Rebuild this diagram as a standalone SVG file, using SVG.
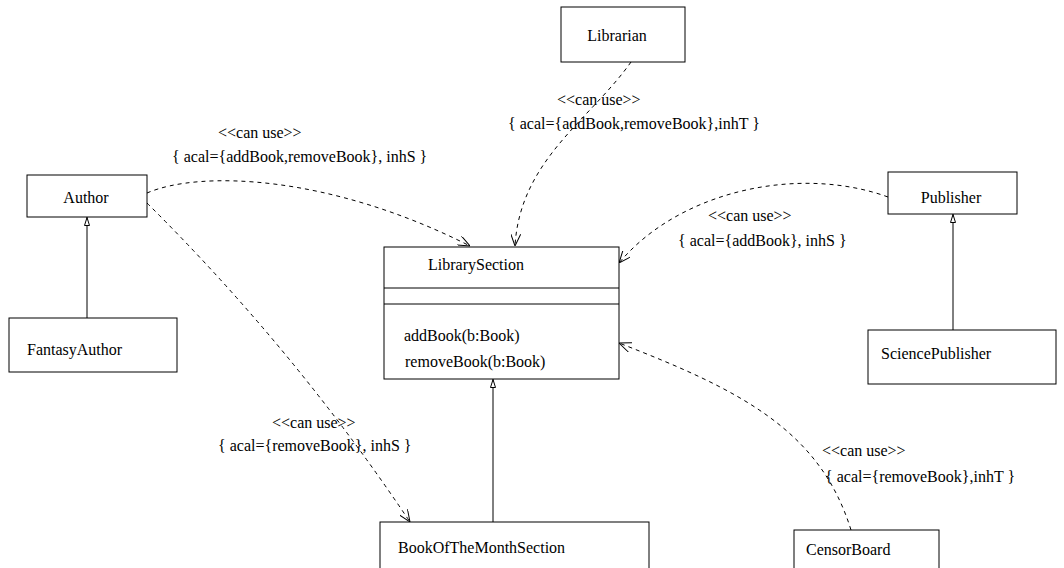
<svg xmlns="http://www.w3.org/2000/svg" width="1064" height="568" viewBox="0 0 1064 568">
  <style>
    .box { fill: #fff; stroke: #000; stroke-width: 1; }
    .sep { stroke: #000; stroke-width: 1; }
    text { font-family: "Liberation Serif", "Times New Roman", serif; font-size: 16px; fill: #000; }
    .dep { fill: none; stroke: #000; stroke-width: 1; stroke-dasharray: 4 4; marker-end: url(#open); }
    .gen { fill: none; stroke: #000; stroke-width: 1; marker-end: url(#tri); }
  </style>
  <defs>
    <!-- open arrowhead for dependencies -->
    <marker id="open" viewBox="0 0 12 10" refX="12" refY="5" markerWidth="12" markerHeight="10" orient="auto" markerUnits="userSpaceOnUse">
      <path d="M0,0 L12,5 L0,10" fill="none" stroke="#000" stroke-width="1"/>
    </marker>
    <!-- hollow triangle for generalization -->
    <marker id="tri" viewBox="0 0 9 6" refX="9" refY="3" markerWidth="9" markerHeight="6" orient="auto" markerUnits="userSpaceOnUse">
      <path d="M0.5,0.5 L8.5,3 L0.5,5.5 Z" fill="#fff" stroke="#000" stroke-width="1"/>
    </marker>
  </defs>

  <!-- connectors -->
  <g id="connectors">
    <path class="dep" d="M147,193 C200,170 330,175 470,246"/>
    <path class="dep" d="M147,203 Q295,350 410,522"/>
    <path class="dep" d="M631,62 C590,120 520,160 515,246"/>
    <path class="dep" d="M888,197 C800,165 680,190 619,263"/>
    <path class="dep" d="M851,530 C820,430 740,390 619,343"/>
    <path class="gen" d="M87,318 L87,217"/>
    <path class="gen" d="M953,330 L953,214"/>
    <path class="gen" d="M493,522 L493,379"/>
  </g>

  <!-- connector labels -->
  <g id="labels">
    <text x="218" y="138">&lt;&lt;can use&gt;&gt;</text>
    <text x="172" y="162">{ acal={addBook,removeBook}, inhS }</text>
    <text x="557" y="105">&lt;&lt;can use&gt;&gt;</text>
    <text x="508" y="129">{ acal={addBook,removeBook},inhT }</text>
    <text x="708" y="221">&lt;&lt;can use&gt;&gt;</text>
    <text x="678" y="246">{ acal={addBook}, inhS }</text>
    <text x="272" y="428">&lt;&lt;can use&gt;&gt;</text>
    <text x="218" y="451">{ acal={removeBook}, inhS }</text>
    <text x="822" y="456">&lt;&lt;can use&gt;&gt;</text>
    <text x="825" y="482">{ acal={removeBook},inhT }</text>
  </g>

  <g id="librarian">
    <rect class="box" x="561" y="7" width="124" height="55"/>
    <text x="617" y="41" text-anchor="middle">Librarian</text>
  </g>
  <g id="author">
    <rect class="box" x="27" y="175" width="120" height="42"/>
    <text x="86" y="203" text-anchor="middle">Author</text>
  </g>
  <g id="fantasy-author">
    <rect class="box" x="9" y="318" width="168" height="54"/>
    <text x="27" y="355">FantasyAuthor</text>
  </g>
  <g id="library-section">
    <rect class="box" x="384" y="247" width="235" height="132"/>
    <line class="sep" x1="384" y1="288" x2="619" y2="288"/>
    <line class="sep" x1="384" y1="304" x2="619" y2="304"/>
    <text x="428" y="270">LibrarySection</text>
    <text x="404" y="341">addBook(b:Book)</text>
    <text x="405" y="367">removeBook(b:Book)</text>
  </g>
  <g id="publisher">
    <rect class="box" x="888" y="172" width="129" height="42"/>
    <text x="951" y="203" text-anchor="middle">Publisher</text>
  </g>
  <g id="science-publisher">
    <rect class="box" x="868" y="330" width="188" height="54"/>
    <text x="881" y="359">SciencePublisher</text>
  </g>
  <g id="book-of-the-month-section">
    <rect class="box" x="380" y="522" width="269" height="60"/>
    <text x="398" y="553">BookOfTheMonthSection</text>
  </g>
  <g id="censor-board">
    <rect class="box" x="794" y="530" width="145" height="50"/>
    <text x="806" y="555">CensorBoard</text>
  </g>
</svg>
